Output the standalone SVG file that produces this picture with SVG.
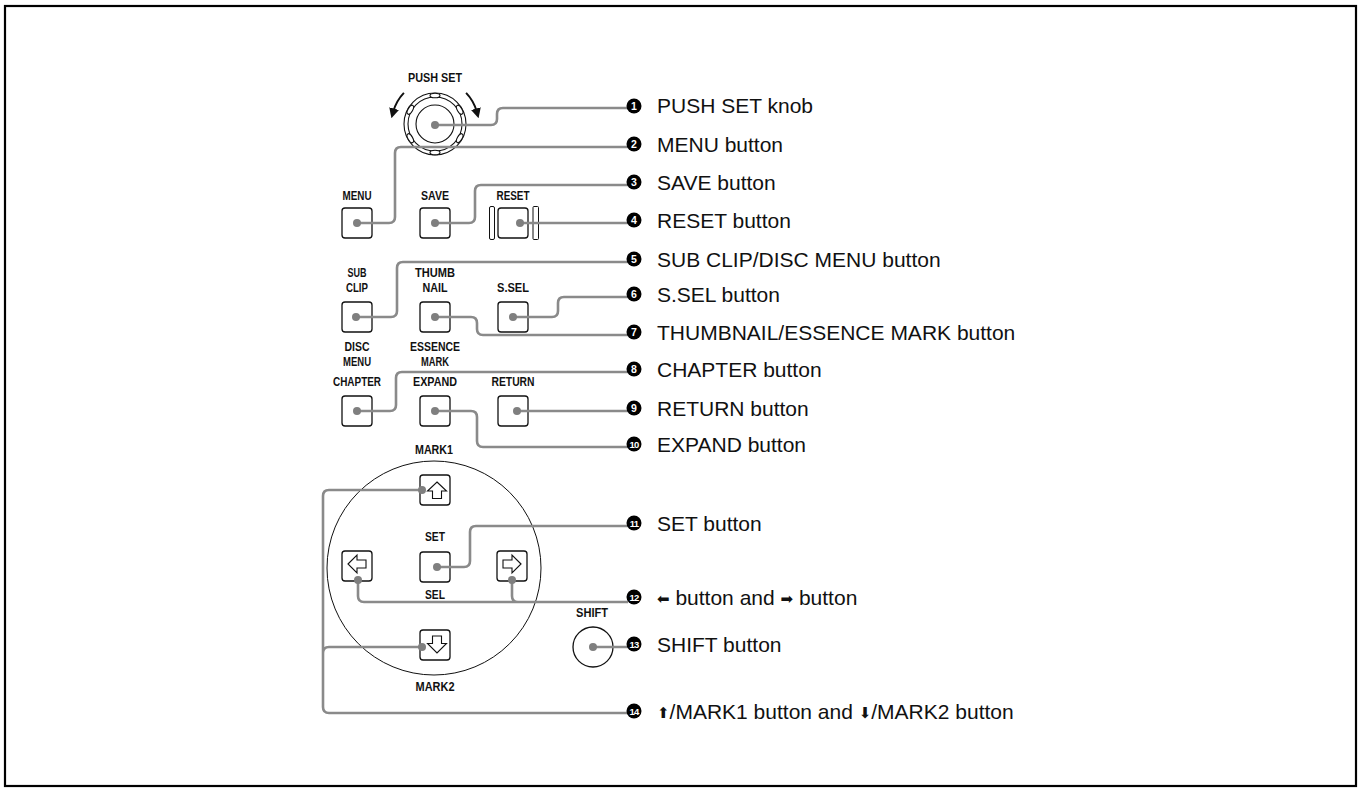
<svg xmlns="http://www.w3.org/2000/svg" width="1362" height="792" viewBox="0 0 1362 792">
<style>
.frame{fill:none;stroke:#000;stroke-width:2.2}
.btn{fill:#fff;stroke:#111;stroke-width:1.3}
.bar{fill:#fff;stroke:#111;stroke-width:1}
.ico{fill:#fff;stroke:#111;stroke-width:1.1;stroke-linejoin:miter}
.pad{fill:none;stroke:#111;stroke-width:1}
.ring{fill:#fff;stroke:#111;stroke-width:1.1}
.lead{fill:none;stroke:#8a8a8a;stroke-width:2.6;stroke-linejoin:round}
.dot{fill:#7f7f7f}
.lbl{font-family:'Liberation Sans',Arial,sans-serif;font-weight:bold;font-size:13.5px;fill:#111;text-anchor:middle}
.cap{font-family:'Liberation Sans',Arial,sans-serif;font-size:21px;fill:#111}
.num{fill:#000}
.numt{font-family:'Liberation Sans',Arial,sans-serif;font-weight:bold;font-size:10.5px;fill:#fff;text-anchor:middle}
.numt2{font-family:'Liberation Sans',Arial,sans-serif;font-weight:bold;font-size:9.5px;fill:#fff;text-anchor:middle;letter-spacing:-0.8px}
.sym{font-family:'DejaVu Sans',sans-serif;font-size:15px}
.arr{fill:none;stroke:#111;stroke-width:2}
</style>
<defs>
<marker id="ah" viewBox="0 0 10 10" refX="3" refY="5" markerWidth="10" markerHeight="10" markerUnits="userSpaceOnUse" orient="auto">
<path d="M0,0 L10,5 L0,10 Z" fill="#111"/>
</marker>
</defs>
<rect class="frame" x="5" y="6" width="1351" height="780"/>

<g id="knob">
<text class="lbl" x="435" y="82" textLength="54" lengthAdjust="spacingAndGlyphs">PUSH SET</text>
<path class="arr" d="M403.9,92.9 A44,44 0 0 0 393.3,111.5" marker-end="url(#ah)"/>
<path class="arr" d="M466.1,92.9 A44,44 0 0 1 476.7,111.5" marker-end="url(#ah)"/>
<circle class="ring" cx="435" cy="124" r="31"/>
<circle class="ring" cx="435" cy="124" r="27"/>
<g class="ring">
<ellipse cx="435" cy="95.5" rx="5" ry="2.3"/>
<ellipse cx="435" cy="95.5" rx="5" ry="2.3" transform="rotate(60 435 124)"/>
<ellipse cx="435" cy="95.5" rx="5" ry="2.3" transform="rotate(120 435 124)"/>
<ellipse cx="435" cy="95.5" rx="5" ry="2.3" transform="rotate(180 435 124)"/>
<ellipse cx="435" cy="95.5" rx="5" ry="2.3" transform="rotate(240 435 124)"/>
<ellipse cx="435" cy="95.5" rx="5" ry="2.3" transform="rotate(300 435 124)"/>
</g>
<circle class="ring" cx="435" cy="124" r="19"/>
</g>

<g id="menu-btn"><text class="lbl" x="357" y="200" textLength="29" lengthAdjust="spacingAndGlyphs">MENU</text><rect class="btn" x="342" y="208" width="30" height="30" rx="3"/></g>
<g id="save-btn"><text class="lbl" x="435" y="200" textLength="28" lengthAdjust="spacingAndGlyphs">SAVE</text><rect class="btn" x="420" y="208" width="30" height="30" rx="3"/></g>
<g id="reset-btn"><text class="lbl" x="513" y="200" textLength="33" lengthAdjust="spacingAndGlyphs">RESET</text>
<rect class="bar" x="489.5" y="206.5" width="5" height="33" rx="1.5"/>
<rect class="btn" x="498" y="208" width="30" height="30" rx="3"/>
<rect class="bar" x="533" y="206.5" width="5.5" height="33" rx="1"/></g>

<g id="subclip-btn"><text class="lbl" x="357" y="277" textLength="19" lengthAdjust="spacingAndGlyphs">SUB</text><text class="lbl" x="357" y="292" textLength="22" lengthAdjust="spacingAndGlyphs">CLIP</text><rect class="btn" x="342" y="302" width="30" height="30" rx="3"/></g>
<g id="thumbnail-btn"><text class="lbl" x="435" y="277" textLength="40" lengthAdjust="spacingAndGlyphs">THUMB</text><text class="lbl" x="435" y="292" textLength="25" lengthAdjust="spacingAndGlyphs">NAIL</text><rect class="btn" x="420" y="302" width="30" height="30" rx="3"/></g>
<g id="ssel-btn"><text class="lbl" x="513" y="292" textLength="32" lengthAdjust="spacingAndGlyphs">S.SEL</text><rect class="btn" x="498" y="302" width="30" height="30" rx="3"/></g>

<g id="chapter-btn"><text class="lbl" x="357" y="351" textLength="25" lengthAdjust="spacingAndGlyphs">DISC</text><text class="lbl" x="357" y="366" textLength="28" lengthAdjust="spacingAndGlyphs">MENU</text><text class="lbl" x="357" y="386" textLength="48" lengthAdjust="spacingAndGlyphs">CHAPTER</text><rect class="btn" x="342" y="396" width="30" height="30" rx="3"/></g>
<g id="expand-btn"><text class="lbl" x="435" y="351" textLength="50" lengthAdjust="spacingAndGlyphs">ESSENCE</text><text class="lbl" x="435" y="366" textLength="28" lengthAdjust="spacingAndGlyphs">MARK</text><text class="lbl" x="435" y="386" textLength="44" lengthAdjust="spacingAndGlyphs">EXPAND</text><rect class="btn" x="420" y="396" width="30" height="30" rx="3"/></g>
<g id="return-btn"><text class="lbl" x="513" y="386" textLength="43" lengthAdjust="spacingAndGlyphs">RETURN</text><rect class="btn" x="498" y="396" width="30" height="30" rx="3"/></g>

<g id="pad"><circle class="pad" cx="434" cy="568" r="107"/></g>
<g id="up-btn"><text class="lbl" x="434" y="454" textLength="38" lengthAdjust="spacingAndGlyphs">MARK1</text><rect class="btn" x="420" y="475" width="30" height="30" rx="3"/>
<path class="ico" d="M437,482 L446.5,491 L441.5,491 L441.5,498.5 L432.5,498.5 L432.5,491 L427.5,491 Z"/></g>
<g id="set-btn"><text class="lbl" x="435" y="541" textLength="20" lengthAdjust="spacingAndGlyphs">SET</text><rect class="btn" x="420" y="552" width="30" height="30" rx="3"/></g>
<g id="left-btn"><rect class="btn" x="342" y="551" width="30" height="30" rx="3"/>
<path class="ico" d="M348,564 L357,555 L357,560 L366,560 L366,568 L357,568 L357,573 Z"/></g>
<g id="right-btn"><rect class="btn" x="497" y="551" width="30" height="30" rx="3"/>
<path class="ico" d="M521,564 L512,555 L512,560 L503,560 L503,568 L512,568 L512,573 Z"/></g>
<g id="sel-label"><text class="lbl" x="435" y="599" textLength="20" lengthAdjust="spacingAndGlyphs">SEL</text></g>
<g id="down-btn"><rect class="btn" x="420" y="630" width="30" height="30" rx="3"/>
<path class="ico" d="M432.5,636 L441.5,636 L441.5,643.5 L446.5,643.5 L437,653 L427.5,643.5 L432.5,643.5 Z"/>
<text class="lbl" x="435" y="691" textLength="39" lengthAdjust="spacingAndGlyphs">MARK2</text></g>
<g id="shift-btn"><text class="lbl" x="592" y="617" textLength="32" lengthAdjust="spacingAndGlyphs">SHIFT</text><circle class="btn" cx="593" cy="647" r="20"/></g>

<g id="connectors">
<path class="lead" d="M435,125 H491 Q497,125 497,119 V114 Q497,108 503,108 H628"/>
<path class="lead" d="M357,223 H389 Q395,223 395,217 V153 Q395,147 401,147 H628"/>
<path class="lead" d="M435,223 H469 Q475,223 475,217 V191 Q475,185 481,185 H628"/>
<path class="lead" d="M520,223 H628"/>
<path class="lead" d="M356,317 H391 Q397,317 397,311 V268 Q397,262 403,262 H628"/>
<path class="lead" d="M513,317 H552 Q558,317 558,311 V303 Q558,297 564,297 H628"/>
<path class="lead" d="M435,317 H471 Q477,317 477,323 V329 Q477,335 483,335 H628"/>
<path class="lead" d="M357,411 H390 Q396,411 396,405 V378 Q396,372 402,372 H628"/>
<path class="lead" d="M517,411 H628"/>
<path class="lead" d="M435,411 H471 Q477,411 477,417 V441 Q477,447 483,447 H628"/>
<path class="lead" d="M437,567 H464 Q470,567 470,561 V532 Q470,526 476,526 H628"/>
<path class="lead" d="M358,580 V596 Q358,602 364,602 H628 M512,580 V596 Q512,602 518,602"/>
<path class="lead" d="M593,647 H628"/>
<path class="lead" d="M422,490 H329 Q323,490 323,496 V707 Q323,713 329,713 H628 M422,647 H329 Q323,647 323,653"/>
<g class="dot">
<circle cx="435" cy="125" r="4"/><circle cx="357" cy="223" r="4"/><circle cx="435" cy="223" r="4"/><circle cx="520" cy="223" r="4"/>
<circle cx="356" cy="317" r="4"/><circle cx="435" cy="317" r="4"/><circle cx="513" cy="317" r="4"/>
<circle cx="357" cy="411" r="4"/><circle cx="435" cy="411" r="4"/><circle cx="517" cy="411" r="4"/>
<circle cx="422" cy="490" r="4"/><circle cx="437" cy="567" r="4"/><circle cx="358" cy="580" r="4"/><circle cx="512" cy="580" r="4"/>
<circle cx="422" cy="647" r="4"/><circle cx="593" cy="647" r="4"/>
</g>
</g>

<g id="callout-1"><circle class="num" cx="634" cy="106" r="7.5"/><text class="numt" x="634" y="110">1</text><text class="cap" x="657" y="113">PUSH SET knob</text></g>
<g id="callout-2"><circle class="num" cx="634" cy="144" r="7.5"/><text class="numt" x="634" y="148">2</text><text class="cap" x="657" y="151.5">MENU button</text></g>
<g id="callout-3"><circle class="num" cx="634" cy="182" r="7.5"/><text class="numt" x="634" y="186">3</text><text class="cap" x="657" y="189.5">SAVE button</text></g>
<g id="callout-4"><circle class="num" cx="634" cy="220" r="7.5"/><text class="numt" x="634" y="224">4</text><text class="cap" x="657" y="227.5">RESET button</text></g>
<g id="callout-5"><circle class="num" cx="634" cy="259" r="7.5"/><text class="numt" x="634" y="263">5</text><text class="cap" x="657" y="266.5">SUB CLIP/DISC MENU button</text></g>
<g id="callout-6"><circle class="num" cx="634" cy="294" r="7.5"/><text class="numt" x="634" y="298">6</text><text class="cap" x="657" y="301.5">S.SEL button</text></g>
<g id="callout-7"><circle class="num" cx="634" cy="332" r="7.5"/><text class="numt" x="634" y="336">7</text><text class="cap" x="657" y="339.5">THUMBNAIL/ESSENCE MARK button</text></g>
<g id="callout-8"><circle class="num" cx="634" cy="369" r="7.5"/><text class="numt" x="634" y="373">8</text><text class="cap" x="657" y="376.5">CHAPTER button</text></g>
<g id="callout-9"><circle class="num" cx="634" cy="408" r="7.5"/><text class="numt" x="634" y="412">9</text><text class="cap" x="657" y="415.5">RETURN button</text></g>
<g id="callout-10"><circle class="num" cx="634" cy="444" r="7.5"/><text class="numt2" x="634" y="447.5">10</text><text class="cap" x="657" y="451.5">EXPAND button</text></g>
<g id="callout-11"><circle class="num" cx="634" cy="523" r="7.5"/><text class="numt2" x="634" y="526.5">11</text><text class="cap" x="657" y="530.5">SET button</text></g>
<g id="callout-12"><circle class="num" cx="634" cy="597" r="7.5"/><text class="numt2" x="634" y="600.5">12</text><text class="cap" x="657" y="604.5"><tspan class="sym" dy="-1">⬅</tspan><tspan dy="1"> button and </tspan><tspan class="sym" dy="-1">➡</tspan><tspan dy="1"> button</tspan></text></g>
<g id="callout-13"><circle class="num" cx="634" cy="644" r="7.5"/><text class="numt2" x="634" y="647.5">13</text><text class="cap" x="657" y="651.5">SHIFT button</text></g>
<g id="callout-14"><circle class="num" cx="634" cy="711" r="7.5"/><text class="numt2" x="634" y="714.5">14</text><text class="cap" x="657" y="718.5"><tspan class="sym" dy="-1">⬆</tspan><tspan dy="1">/MARK1 button and </tspan><tspan class="sym" dy="-1">⬇</tspan><tspan dy="1">/MARK2 button</tspan></text></g>
</svg>
